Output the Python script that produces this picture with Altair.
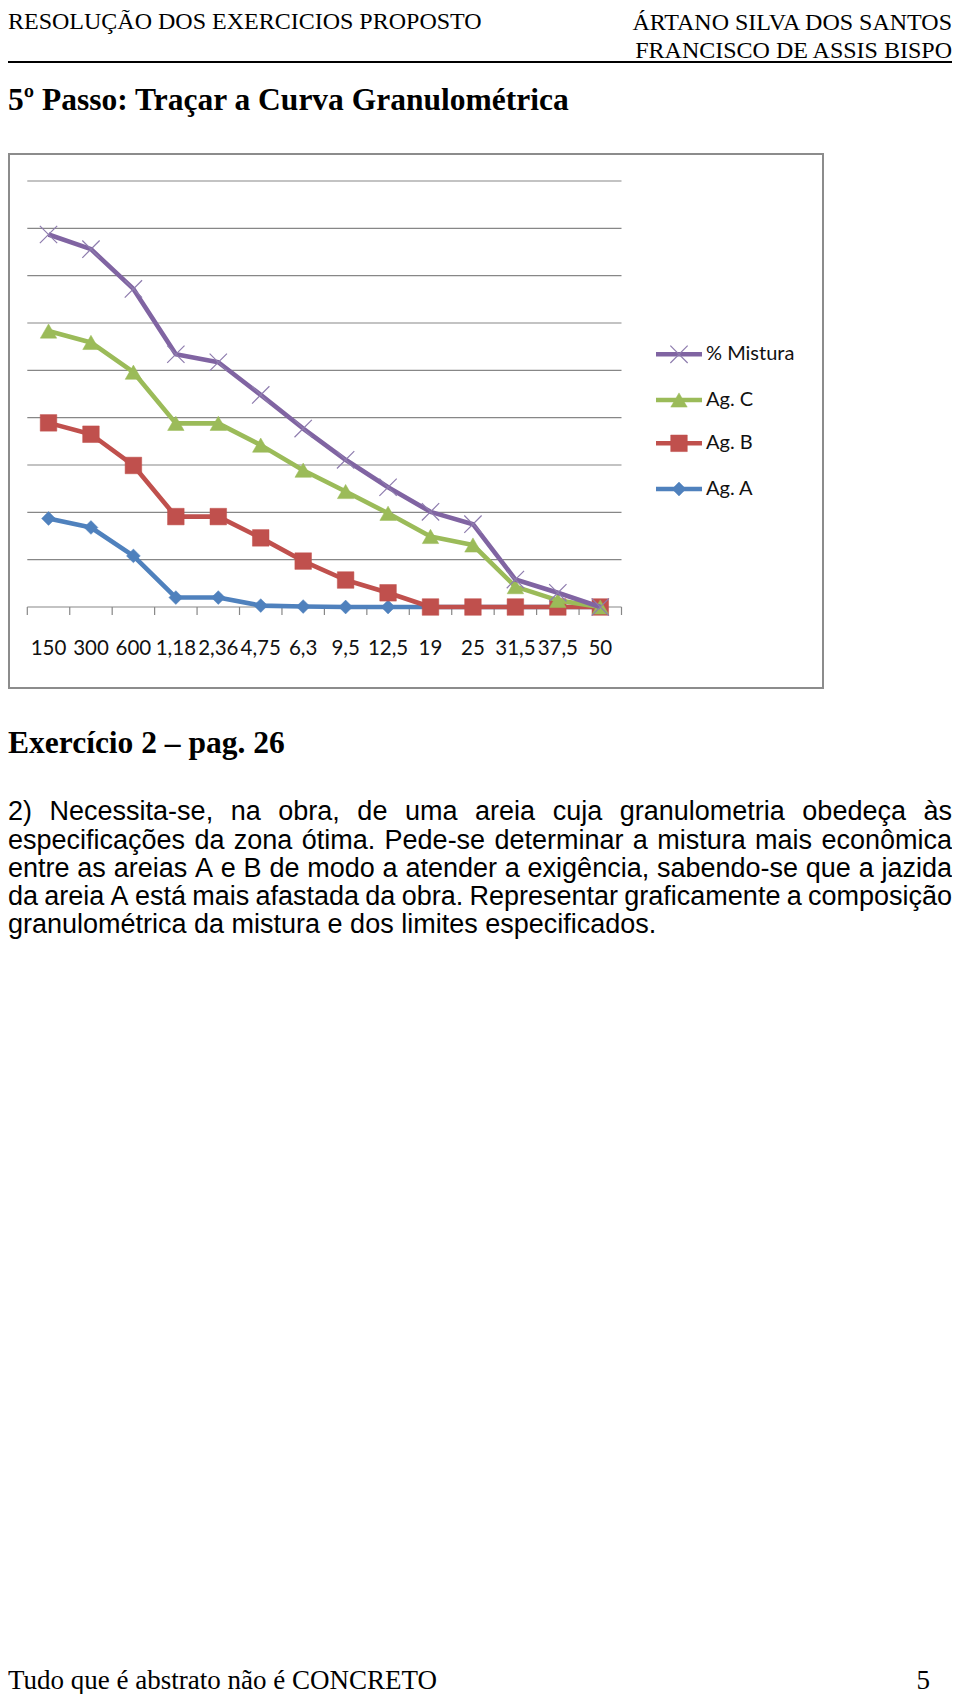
import altair as alt
import pandas as pd

# ---------------- data ----------------
categories = ["150", "300", "600", "1,18", "2,36", "4,75", "6,3", "9,5",
              "12,5", "19", "25", "31,5", "37,5", "50"]
ag_a = [18.7, 16.8, 10.8, 2.0, 2.0, 0.3, 0.1, 0, 0, 0, 0, 0, 0, 0]
ag_b = [38.9, 36.5, 29.9, 19.1, 19.1, 14.6, 9.7, 5.7, 3.0, 0, 0, 0, 0, 0]
ag_c = [58.3, 55.9, 49.6, 38.8, 38.8, 34.2, 28.9, 24.4, 19.8, 14.9, 13.1, 4.3, 1.4, 0]
mistura = [78.7, 75.6, 67.2, 53.4, 51.7, 44.8, 37.7, 31.1, 25.3, 20.1, 17.5, 5.8, 3.0, 0]
series_names = ["Ag. A", "Ag. B", "Ag. C", "% Mistura"]
legend_order = ["% Mistura", "Ag. C", "Ag. B", "Ag. A"]
grid_values = [0, 10, 20, 30, 40, 50, 60, 70, 80, 90]

header_left = "RESOLUÇÃO DOS EXERCICIOS PROPOSTO"
header_right = ["ÁRTANO SILVA DOS SANTOS", "FRANCISCO DE ASSIS BISPO"]
title_text = "5º Passo: Traçar a Curva Granulométrica"
exercise_text = "Exercício 2 – pag. 26"
paragraph_lines = [
    "2) Necessita-se, na obra, de uma areia cuja granulometria obedeça às",
    "especificações da zona ótima. Pede-se determinar a mistura mais econômica",
    "entre as areias A e B de modo a atender a exigência, sabendo-se que a jazida",
    "da areia A está mais afastada da obra. Representar graficamente a composição",
    "granulométrica da mistura e dos limites especificados.",
]
footer_text = "Tudo que é abstrato não é CONCRETO"
page_number = "5"

# ---------------- layout / style ----------------
W, H = 944, 1686
PLOT_X0, PLOT_X1 = 19.3, 613.5
PLOT_Y0, PLOT_Y90 = 599, 173
AXIS_GRAY = "#878787"

styles = {
    "Ag. A": dict(color="#4F81BD", shape="diamond", size=190, filled=True),
    "Ag. B": dict(color="#C0504D", shape="square", size=275, filled=True),
    "Ag. C": dict(color="#9BBB59", shape="triangle-up", size=270, filled=True),
    "% Mistura": dict(color="#8064A2", shape="M-1,-1L1,1M-1,1L1,-1", size=300,
                      filled=False, mcolor="#8E7CAE"),
}

values = {"Ag. A": ag_a, "Ag. B": ag_b, "Ag. C": ag_c, "% Mistura": mistura}
rows = []
for s in series_names:
    for c, v in zip(categories, values[s]):
        rows.append({"cat": c, "val": v, "series": s})
df = pd.DataFrame(rows)
cat_df = pd.DataFrame({"cat": categories})

x_scale = alt.Scale(type="band", domain=categories, range=[PLOT_X0, PLOT_X1],
                    paddingInner=0, paddingOuter=0)
x_enc = alt.X("cat:N", scale=x_scale, bandPosition=0.5, axis=None)
y_scale = alt.Scale(domain=[0, 90], range=[PLOT_Y0, PLOT_Y90], nice=False, zero=True)
y_enc = alt.Y("val:Q", scale=y_scale, axis=None)

one = pd.DataFrame({"k": [0]})

layers = []

# chart frame
layers.append(
    alt.Chart(one).mark_rect(fill="#ffffff", stroke="#8c8c8c", strokeWidth=2).encode(
        x=alt.value(1), x2=alt.value(815), y=alt.value(146), y2=alt.value(680))
)

# gridlines (0 = category axis line)
layers.append(
    alt.Chart(pd.DataFrame({"val": grid_values})).mark_rule(
        color=AXIS_GRAY, strokeWidth=1.2).encode(
        y=y_enc, x=alt.value(PLOT_X0), x2=alt.value(PLOT_X1))
)

# category tick marks at band boundaries
layers.append(
    alt.Chart(cat_df).mark_rule(color=AXIS_GRAY, strokeWidth=1.2).encode(
        x=alt.X("cat:N", scale=x_scale, bandPosition=0, axis=None),
        y=alt.value(PLOT_Y0), y2=alt.value(PLOT_Y0 + 8))
)
layers.append(
    alt.Chart(cat_df).transform_filter(alt.datum.cat == categories[-1]).mark_rule(
        color=AXIS_GRAY, strokeWidth=1.2).encode(
        x=alt.X("cat:N", scale=x_scale, bandPosition=1, axis=None),
        y=alt.value(PLOT_Y0), y2=alt.value(PLOT_Y0 + 8))
)
# category labels
layers.append(
    alt.Chart(cat_df).mark_text(font="Lato", fontSize=20.5, align="center",
                                baseline="alphabetic", color="#111111").encode(
        x=alt.X("cat:N", scale=x_scale, bandPosition=0.5, axis=None),
        y=alt.value(647), text="cat:N")
)

# series
for s in series_names:
    st = styles[s]
    base = alt.Chart(df).transform_filter(alt.datum.series == s)
    layers.append(base.mark_line(color=st["color"], strokeWidth=4.6,
                                 strokeJoin="round").encode(x=x_enc, y=y_enc))
    if st["filled"]:
        pm = base.mark_point(shape=st["shape"], size=st["size"], filled=True,
                             fill=st["color"], stroke=st["color"], strokeWidth=0.5,
                             opacity=1)
    else:
        pm = base.mark_point(shape=st["shape"], size=st["size"], filled=False,
                             stroke=st["mcolor"], strokeWidth=1.2, opacity=1)
    layers.append(pm.encode(x=x_enc, y=y_enc))

# legend (manual, Excel style)
leg_y = [346.3, 392, 435.3, 481]
for s, ly in zip(legend_order, leg_y):
    st = styles[s]
    layers.append(alt.Chart(one).mark_rule(color=st["color"], strokeWidth=4.6).encode(
        x=alt.value(648), x2=alt.value(694), y=alt.value(ly)))
    if st["filled"]:
        pm = alt.Chart(one).mark_point(shape=st["shape"], size=st["size"], filled=True,
                                       fill=st["color"], stroke=st["color"],
                                       strokeWidth=0.5, opacity=1)
    else:
        pm = alt.Chart(one).mark_point(shape=st["shape"], size=st["size"], filled=False,
                                       stroke=st["mcolor"], strokeWidth=1.2, opacity=1)
    layers.append(pm.encode(x=alt.value(671), y=alt.value(ly)))
    layers.append(alt.Chart(one).mark_text(font="Lato", fontSize=20, align="left",
                                           baseline="middle", color="#111111").encode(
        x=alt.value(698), y=alt.value(ly), text=alt.value(s)))


def text_layer(rows_, font, size, weight="normal", align="left"):
    d = pd.DataFrame(rows_, columns=["t", "px", "py"])
    return alt.Chart(d).mark_text(font=font, fontSize=size, fontWeight=weight,
                                  align=align, baseline="alphabetic",
                                  color="#000000").encode(
        x=alt.X("px:Q", scale=None, axis=None),
        y=alt.Y("py:Q", scale=None, axis=None),
        text="t:N")


# header
layers.append(text_layer([(header_left, 0, 21)], "Liberation Serif", 24))
layers.append(text_layer([(header_right[0], W, 22), (header_right[1], W, 50)],
                         "Liberation Serif", 24, align="right"))
layers.append(alt.Chart(one).mark_rule(color="#000000", strokeWidth=2).encode(
    x=alt.value(0), x2=alt.value(W), y=alt.value(54)))

# titles
layers.append(text_layer([(title_text, 0, 102), (exercise_text, 0, 745)],
                         "Liberation Serif", 31.5, weight="bold"))

# justified paragraph (Arial / Liberation Sans metrics)
AW = {" ": 278, ",": 278, ".": 278, "-": 333, ")": 333, "2": 556,
      "a": 556, "b": 556, "c": 500, "d": 556, "e": 556, "f": 278, "g": 556,
      "h": 556, "i": 222, "j": 222, "k": 500, "l": 222, "m": 833, "n": 556,
      "o": 556, "p": 556, "q": 556, "r": 333, "s": 500, "t": 278, "u": 556,
      "v": 500, "w": 722, "x": 500, "y": 500, "z": 500,
      "ç": 500, "à": 556, "á": 556, "ã": 556, "é": 556, "ê": 556, "ó": 556,
      "ô": 556, "õ": 556, "A": 667, "B": 667, "N": 722, "P": 667, "R": 722}
FS = 27


def tw(s):
    return sum(AW.get(ch, 556) for ch in s) / 1000.0 * FS


para_y = [812, 840.5, 869, 897, 925]
word_rows = []
for i, (line, py) in enumerate(zip(paragraph_lines, para_y)):
    words = line.split(" ")
    widths = [tw(w) for w in words]
    if i < len(paragraph_lines) - 1:
        gap = (W - sum(widths)) / (len(words) - 1)
    else:
        gap = tw(" ")
    x = 0.0
    for w, wd in zip(words, widths):
        word_rows.append((w, x, py))
        x += wd + gap
layers.append(text_layer(word_rows, "Liberation Sans", FS))

# footer
layers.append(text_layer([(footer_text, 0, 1681)], "Liberation Serif", 27))
layers.append(text_layer([(page_number, 922, 1681)], "Liberation Serif", 27, align="right"))

chart = alt.layer(*layers).properties(
    width=W, height=H, padding=0,
    autosize=alt.AutoSizeParams(type="none"),
    background="#ffffff",
).configure_view(strokeWidth=0)

chart.save("out.html", embed_options={"renderer": "svg", "actions": False})
